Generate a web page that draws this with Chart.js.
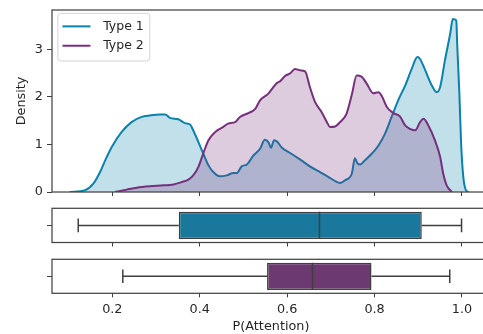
<!DOCTYPE html>
<html>
<head>
<meta charset="utf-8">
<script src="https://cdn.jsdelivr.net/npm/chart.js@4.4.1/dist/chart.umd.min.js"></script>
<style>
  body { margin: 0; background: #fff; }
  #wrap { position: relative; width: 483px; height: 334px; overflow: hidden; }
  canvas { position: absolute; left: 0; }
</style>
</head>
<body>
<div id="wrap">
  <canvas id="dens" width="500" height="200" style="top:0"></canvas>
  <canvas id="box1" width="500" height="50" style="top:200px"></canvas>
  <canvas id="box2" width="500" height="84" style="top:250px"></canvas>
</div>
<script>
// data
var seriesNames = ['Type 1', 'Type 2'];
var xTicks = [0.2, 0.4, 0.6, 0.8, 1.0];
var densityTicks = [0, 1, 2, 3];
var xLabel = 'P(Attention)';
var yLabel = 'Density';

var type1X = [0.103, 0.138, 0.157, 0.172, 0.184, 0.199, 0.221, 0.244, 0.267, 0.286, 0.309, 0.321, 0.332, 0.351,
  0.366, 0.378, 0.385, 0.397, 0.408, 0.420, 0.431, 0.446, 0.462, 0.477, 0.485, 0.496, 0.508, 0.523, 0.538,
  0.549, 0.557, 0.563, 0.570, 0.578, 0.588, 0.607, 0.630, 0.652, 0.675, 0.694, 0.710, 0.721, 0.733, 0.748,
  0.755, 0.761, 0.767, 0.778, 0.794, 0.809, 0.824, 0.839, 0.854, 0.870, 0.885, 0.898, 0.904, 0.916, 0.931,
  0.942, 0.950, 0.961, 0.973, 0.979, 0.987, 0.989, 0.994, 0.998, 1.003, 1.009, 1.015];
var type1Y = [0, 0.04, 0.18, 0.42, 0.67, 0.95, 1.26, 1.47, 1.58, 1.61, 1.63, 1.63, 1.56, 1.53,
  1.45, 1.42, 1.30, 1.05, 0.81, 0.56, 0.42, 0.33, 0.35, 0.40, 0.40, 0.54, 0.58, 0.77, 0.91,
  1.10, 1.05, 0.93, 1.09, 1.05, 0.93, 0.82, 0.68, 0.54, 0.42, 0.32, 0.23, 0.19, 0.25, 0.39,
  0.71, 0.60, 0.58, 0.67, 0.81, 0.98, 1.23, 1.58, 1.93, 2.24, 2.59, 2.84, 2.80, 2.56, 2.24,
  2.10, 2.21, 2.77, 3.33, 3.64, 3.61, 3.12, 2.07, 1.02, 0.32, 0.04, 0];

var type2X = [0.206, 0.233, 0.256, 0.286, 0.317, 0.340, 0.359, 0.374, 0.385, 0.397, 0.408, 0.420, 0.435, 0.454,
  0.465, 0.481, 0.492, 0.511, 0.527, 0.538, 0.557, 0.576, 0.584, 0.595, 0.607, 0.618, 0.630, 0.641, 0.652,
  0.664, 0.679, 0.691, 0.698, 0.710, 0.721, 0.736, 0.748, 0.759, 0.770, 0.782, 0.797, 0.809, 0.816, 0.828,
  0.843, 0.858, 0.870, 0.881, 0.893, 0.904, 0.912, 0.923, 0.938, 0.950, 0.957, 0.965, 0.977];
var type2Y = [0, 0.05, 0.09, 0.12, 0.14, 0.16, 0.21, 0.26, 0.35, 0.53, 0.81, 1.09, 1.26, 1.37,
  1.44, 1.47, 1.58, 1.66, 1.75, 1.93, 2.07, 2.29, 2.33, 2.44, 2.50, 2.59, 2.56, 2.54, 2.21,
  1.89, 1.68, 1.47, 1.37, 1.38, 1.47, 1.65, 2.05, 2.45, 2.43, 2.28, 2.08, 2.10, 2.03, 1.79,
  1.66, 1.59, 1.40, 1.33, 1.30, 1.47, 1.54, 1.40, 1.09, 0.74, 0.39, 0.14, 0];

// whisker low, q1, median, q3, whisker high
var type1Box = [0.122, 0.352, 0.674, 0.908, 0.999];
var type2Box = [0.224, 0.554, 0.658, 0.793, 0.972];

var lineColors = ['#0a82ab', '#76307b'];
var fillColors = ['rgba(10,130,171,0.25)', 'rgba(118,48,123,0.25)'];
var boxColors = ['#1a789d', '#6c3a70'];
var ink = '#262626';
var edge = '#3f3f3f';

var X_MIN = 0.062, X_MAX = 1.0641;
var font = { family: 'DejaVu Sans', size: 12.8 };
var legendFont = { family: 'DejaVu Sans', size: 12.5 };

Chart.defaults.font.family = 'DejaVu Sans';
Chart.defaults.color = ink;

function xAxis(height, labels) {
  return {
    type: 'linear', min: X_MIN, max: X_MAX, offset: false,
    afterBuildTicks: function (s) { s.ticks = xTicks.map(function (v) { return { value: v }; }); },
    afterFit: function (s) { s.height = height; },
    ticks: { display: labels, autoSkip: false, maxRotation: 0, padding: 5, font: font, color: ink,
      callback: function (v) { return v.toFixed(1); } },
    grid: { drawOnChartArea: false, tickLength: 4, color: edge, offset: false },
    border: { display: false },
    title: { display: labels, text: xLabel, font: font, color: ink, padding: { top: 0, bottom: 0 } }
  };
}

function yAxisBox() {
  return {
    type: 'linear', min: -0.5, max: 0.5, offset: false,
    afterBuildTicks: function (s) { s.ticks = [{ value: 0 }]; },
    afterFit: function (s) { s.width = 52; },
    ticks: { display: false },
    grid: { drawOnChartArea: false, tickLength: 5, color: edge, offset: false },
    border: { display: false }
  };
}

var frame = {
  id: 'frame',
  afterDatasetsDraw: function (chart) {
    var a = chart.chartArea, ctx = chart.ctx;
    ctx.save();
    ctx.strokeStyle = '#444';
    ctx.lineWidth = 1.25;
    ctx.strokeRect(a.left, a.top, a.right - a.left, a.bottom - a.top);
    ctx.restore();
  },
  afterDraw: function (chart) {
    var lg = chart.legend;
    if (!lg || !lg.options.display || !lg.legendHitBoxes || !lg.legendHitBoxes.length) return;
    var hb = lg.legendHitBoxes;
    var x0 = hb[0].left - 1, y0 = hb[0].top - 6.8;
    var x1 = Math.max.apply(null, hb.map(function (h) { return h.left + h.width; })) + 6;
    var y1 = hb[hb.length - 1].top + hb[hb.length - 1].height + 9;
    var ctx = chart.ctx;
    ctx.save();
    ctx.strokeStyle = '#d4d4d4';
    ctx.lineWidth = 1;
    ctx.beginPath();
    ctx.roundRect(x0, y0, x1 - x0, y1 - y0, 3);
    ctx.stroke();
    ctx.restore();
  }
};

// line sample for the legend, with a little air on both sides
function legendMark(color) {
  var c = document.createElement('canvas');
  c.width = 38; c.height = 4;
  var g = c.getContext('2d');
  g.strokeStyle = color; g.lineWidth = 2;
  g.beginPath(); g.moveTo(3.5, 2); g.lineTo(31.5, 2); g.stroke();
  return c;
}

function pts(xs, ys) {
  return xs.map(function (x, i) { return { x: x, y: ys[i] }; });
}

new Chart(document.getElementById('dens'), {
  type: 'line',
  data: {
    datasets: [
      { label: seriesNames[0], data: pts(type1X, type1Y), borderColor: lineColors[0], backgroundColor: fillColors[0],
        fill: 'origin', borderWidth: 2, pointRadius: 0, cubicInterpolationMode: 'monotone', order: 2 },
      { label: seriesNames[1], data: pts(type2X, type2Y), borderColor: lineColors[1], backgroundColor: fillColors[1],
        fill: 'origin', borderWidth: 2, pointRadius: 0, cubicInterpolationMode: 'monotone', order: 1 }
    ]
  },
  options: {
    responsive: false, animation: false, events: [],
    layout: { padding: { top: 10, right: 10, left: 0, bottom: 0 } },
    scales: {
      x: xAxis(8, false),
      y: {
        type: 'linear', min: 0, max: 3.83,
        afterBuildTicks: function (s) { s.ticks = densityTicks.map(function (v) { return { value: v }; }); },
        afterFit: function (s) { s.width = 52; },
        ticks: { padding: 4, font: { family: 'DejaVu Sans', size: 12.8, lineHeight: 0.5 }, color: ink },
        grid: { drawOnChartArea: false, tickLength: 5, color: edge },
        border: { display: false },
        title: { display: true, text: yLabel, font: font, color: ink, padding: { top: 14, bottom: 0 } }
      }
    },
    plugins: {
      tooltip: { enabled: false },
      legend: {
        position: 'chartArea', align: 'start',
        title: { display: true, text: '', font: { size: 11, lineHeight: 1.2 }, padding: 0 },
        labels: {
          usePointStyle: true, pointStyleWidth: 38, padding: 6.9, font: legendFont, color: ink,
          generateLabels: function () {
            return seriesNames.map(function (n, i) {
              return { text: n, pointStyle: legendMark(lineColors[i]), fillStyle: lineColors[i],
                strokeStyle: lineColors[i], lineWidth: 0, hidden: false, datasetIndex: i, fontColor: ink };
            });
          }
        }
      }
    }
  },
  plugins: [frame]
});

function boxChart(id, stats, color, padTop, xHeight, labels) {
  var half = 0.2, boxHalf = 0.4;
  var seg = function (a, b) {
    return { type: 'line', data: [a, b], borderColor: edge, borderWidth: 1.5, pointRadius: 0, order: 2 };
  };
  var median = seg({ x: stats[2], y: -boxHalf }, { x: stats[2], y: boxHalf });
  median.order = 1;
  new Chart(document.getElementById(id), {
    type: 'bar',
    data: {
      datasets: [
        { type: 'bar', indexAxis: 'y', data: [{ x: [stats[1], stats[3]], y: 0 }], backgroundColor: color,
          borderColor: edge, borderWidth: 1.5, borderSkipped: false, barPercentage: 0.8, categoryPercentage: 1, order: 3 },
        seg({ x: stats[0], y: 0 }, { x: stats[1], y: 0 }),
        seg({ x: stats[3], y: 0 }, { x: stats[4], y: 0 }),
        seg({ x: stats[0], y: -half }, { x: stats[0], y: half }),
        seg({ x: stats[4], y: -half }, { x: stats[4], y: half }),
        median
      ]
    },
    options: {
      responsive: false, animation: false, events: [],
      layout: { padding: { top: padTop, right: 10, left: 0, bottom: 0 } },
      scales: { x: xAxis(xHeight, labels), y: yAxisBox() },
      plugins: { legend: { display: false }, tooltip: { enabled: false } }
    },
    plugins: [frame]
  });
}

boxChart('box1', type1Box, boxColors[0], 8.3, 7.5, false);
boxChart('box2', type2Box, boxColors[1], 9.3, 40.7, true);
</script>
</body>
</html>
